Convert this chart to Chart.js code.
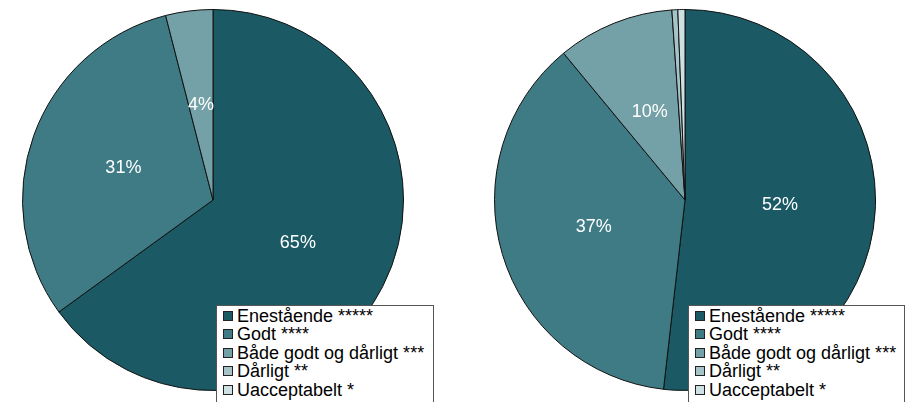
<!DOCTYPE html>
<html>
<head>
<meta charset="utf-8">
<script src="https://cdn.jsdelivr.net/npm/chart.js@4/dist/chart.umd.min.js"></script>
<style>
  body { margin: 0; background: #fff; width: 914px; height: 402px; overflow: hidden; position: relative; font-family: "Liberation Sans", Arial, sans-serif; }
  .pie { position: absolute; top: 9px; width: 382px; height: 382px; }
  .legend { position: absolute; top: 305px; height: 110px; background: #fff; border: 1px solid #555; box-sizing: border-box; padding: 1px 0 0 6px; }
  .legend div { font-size: 18px; line-height: 18.4px; color: #000; white-space: nowrap; }
  .legend span { display: inline-block; width: 8px; height: 8px; border: 1px solid #222; margin-right: 4px; vertical-align: 1px; }
</style>
</head>
<body>
<div class="pie" style="left:22px"><canvas id="pieLeft"></canvas></div>
<div class="pie" style="left:494px"><canvas id="pieRight"></canvas></div>
<div class="legend" id="legendLeft" style="left:216px; width:218px"></div>
<div class="legend" id="legendRight" style="left:688px; width:217px"></div>
<script>
const categories = ['Enestående *****', 'Godt ****', 'Både godt og dårligt ***', 'Dårligt **', 'Uacceptabelt *'];
const sliceColors = ['#1b5a65', '#3e7b85', '#74a1a7', '#a6c4c8', '#cde0e2'];

const leftValues = [65, 31, 4, 0, 0];
const rightValues = [51.8, 37.2, 9.9, 0.5, 0.6];

// write the percentage in the middle of each slice that is big enough
const sliceLabels = {
    id: 'sliceLabels',
    afterDatasetsDraw(chart) {
        const ctx = chart.ctx;
        const data = chart.data.datasets[0].data;
        const total = data.reduce((a, b) => a + b, 0);
        chart.getDatasetMeta(0).data.forEach((arc, i) => {
            let pct = data[i] / total * 100;
            if (pct < 2) return;
            let pos = arc.tooltipPosition();
            ctx.save();
            ctx.fillStyle = '#fff';
            ctx.font = '18px "Liberation Sans", Arial, sans-serif';
            ctx.textAlign = 'center';
            ctx.textBaseline = 'middle';
            ctx.fillText(Math.round(pct) + '%', pos.x, pos.y);
            ctx.restore();
        });
    }
};

function makePie(canvasId, values) {
    return new Chart(document.getElementById(canvasId), {
        type: 'pie',
        data: {
            labels: categories,
            datasets: [{
                data: values,
                backgroundColor: sliceColors,
                borderColor: '#111',
                borderWidth: 1
            }]
        },
        options: {
            responsive: true,
            maintainAspectRatio: false,
            animation: false,
            layout: { padding: 0 },
            plugins: {
                legend: { display: false },
                tooltip: { enabled: false }
            }
        },
        plugins: [sliceLabels]
    });
}

function makeLegend(id) {
    let box = document.getElementById(id);
    categories.forEach((c, i) => {
        let row = document.createElement('div');
        row.innerHTML = '<span style="background:' + sliceColors[i] + '"></span>' + c;
        box.appendChild(row);
    });
}

makePie('pieLeft', leftValues);
makePie('pieRight', rightValues);
makeLegend('legendLeft');
makeLegend('legendRight');
</script>
</body>
</html>
